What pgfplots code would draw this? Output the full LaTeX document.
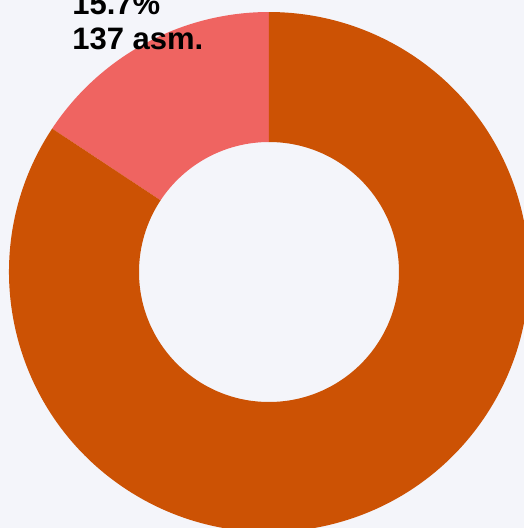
\documentclass[border=0pt]{standalone}
\usepackage{fontspec}
\setmainfont{Liberation Sans}
\usepackage{pgfplots}
\usepackage{pgfplotstable}
\pgfplotsset{compat=1.18}

\definecolor{bgcol}{HTML}{F4F5FA}
\definecolor{cOrange}{HTML}{CC5204}
\definecolor{cPink}{HTML}{EF6461}

% share of each slice (percent) and counts
\pgfplotstableread{
slice pct count
asm   15.7 137
other 84.3 736
}\donutdata

\begin{document}
\begin{tikzpicture}
\pgfplotstablegetelem{0}{pct}\of\donutdata
\pgfmathsetmacro{\angA}{90+3.6*\pgfplotsretval}
\pgfplotstablegetelem{1}{pct}\of\donutdata
\pgfmathsetmacro{\angB}{\angA+3.6*\pgfplotsretval}
\pgfmathsetmacro{\oxA}{cos(\angA)}
\pgfmathsetmacro{\oyA}{sin(\angA)}
\pgfmathsetmacro{\ixA}{0.5*cos(\angA)}
\pgfmathsetmacro{\iyA}{0.5*sin(\angA)}
\begin{axis}[
  x=130pt, y=130pt,
  xmin=-1.0346, xmax=0.9808,
  ymin=-0.9846, ymax=1.0462,
  hide axis, clip=true,
]
  \fill[bgcol] (rel axis cs:0,0) rectangle (rel axis cs:1,1);
  % pink slice
  \fill[cPink] (axis cs:0,1) arc[start angle=90, end angle=\angA, radius=130pt]
    -- (axis cs:\ixA,\iyA)
    arc[start angle=\angA, end angle=90, radius=65pt] -- cycle;
  % orange slice
  \fill[cOrange] (axis cs:\oxA,\oyA)
    arc[start angle=\angA, end angle=\angB, radius=130pt]
    -- (axis cs:0,0.5)
    arc[start angle=\angB, end angle=\angA, radius=65pt] -- cycle;
  \node[anchor=base west, inner sep=0pt, font=\fontsize{15.5}{18}\selectfont\bfseries]
    at (axis cs:-0.758,0.992) {15.7\%};
  \node[anchor=base west, inner sep=0pt, font=\fontsize{15.5}{18}\selectfont\bfseries]
    at (axis cs:-0.758,0.854) {137 asm.};
\end{axis}
\pgfresetboundingbox
\useasboundingbox (current axis.south west) rectangle (current axis.north east);
\end{tikzpicture}
\end{document}
